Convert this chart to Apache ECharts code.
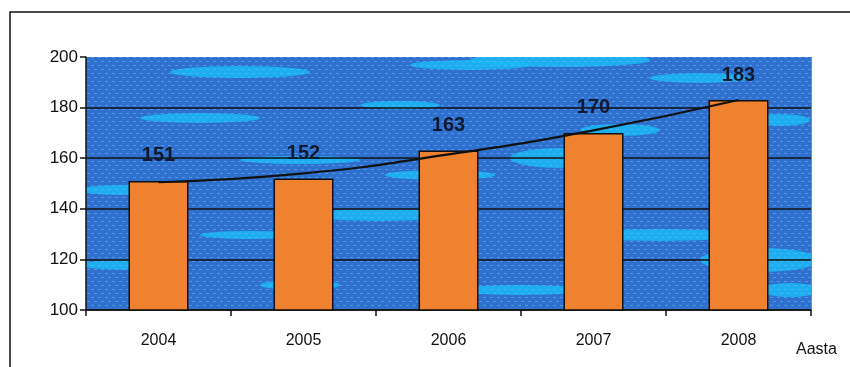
<!DOCTYPE html>
<html>
<head>
<meta charset="utf-8">
<script src="https://cdn.jsdelivr.net/npm/echarts@6/dist/echarts.min.js"></script>
<style>
  html, body { margin: 0; padding: 0; background: #fff; }
  #main { width: 850px; height: 367px; }
</style>
</head>
<body>
<div id="main"></div>
<script>
// data
var years = ['2004', '2005', '2006', '2007', '2008'];
var values = [151, 152, 163, 170, 183];
var trend = [150.5, 154, 161.5, 171, 183];
var axisName = 'Aasta';

// blue textured plot background (decoration only, covers the whole canvas,
// the grid rect clips it)
function makeTexture() {
    var c = document.createElement('canvas');
    c.width = 850; c.height = 367;
    var g = c.getContext('2d');
    g.fillStyle = '#2f70cf';
    g.fillRect(0, 0, c.width, c.height);
    var blobs = [[240, 72, 70, 6], [470, 65, 60, 5], [560, 60, 90, 7], [700, 78, 50, 5],
                 [200, 118, 60, 5], [400, 105, 40, 4], [560, 158, 50, 10], [620, 130, 40, 6],
                 [300, 160, 60, 4], [440, 175, 55, 5], [780, 120, 30, 6], [120, 190, 40, 5],
                 [380, 215, 70, 6], [250, 235, 50, 4], [660, 235, 80, 6], [130, 265, 50, 5],
                 [760, 260, 60, 12], [300, 285, 40, 5], [520, 290, 70, 5], [790, 290, 30, 7]];
    blobs.forEach(function (b) {
        g.fillStyle = 'rgba(25,185,245,0.85)';
        g.beginPath();
        g.ellipse(b[0], b[1], b[2], b[3], 0, 0, Math.PI * 2);
        g.fill();
    });
    g.fillStyle = 'rgba(110,185,250,0.55)';
    for (var y = 1; y < c.height; y += 4) {
        for (var x = (y % 8 === 1 ? 0 : 3); x < c.width; x += 7) {
            g.fillRect(x, y, 3, 1);
        }
    }
    return c;
}

var myChart = echarts.init(document.getElementById('main'));

var font = 'Arial, "Liberation Sans", sans-serif';

var option = {
    backgroundColor: '#fff',
    animation: false,
    grid: {
        left: 86, right: 39, top: 57, bottom: 57,
        show: true,
        backgroundColor: { image: makeTexture(), repeat: 'no-repeat' },
        borderWidth: 0
    },
    graphic: [
        {
            type: 'rect', silent: true, z: -1,
            shape: { x: 10, y: 12, width: 900, height: 400 },
            style: { fill: 'none', stroke: '#111', lineWidth: 1.5 }
        },
        {
            type: 'text', left: 796, top: 342,
            style: { text: axisName, font: '16px ' + font, fill: '#111' }
        },
        {
            type: 'line', silent: true,
            shape: { x1: 811.5, y1: 57, x2: 811.5, y2: 310 },
            style: { stroke: '#888', lineWidth: 1 }
        }
    ],
    xAxis: {
        type: 'category',
        data: years,
        boundaryGap: true,
        axisLine: { lineStyle: { color: '#111', width: 1.5 } },
        axisTick: { show: true, length: 6, lineStyle: { color: '#111', width: 1.5 } },
        axisLabel: { color: '#111', fontSize: 16, fontFamily: font, margin: 23 },
        splitLine: { show: false }
    },
    yAxis: {
        type: 'value',
        min: 100, max: 200, interval: 20,
        axisLine: { show: true, lineStyle: { color: '#111', width: 1.5 } },
        axisTick: { show: true, length: 6, lineStyle: { color: '#111', width: 1.5 } },
        axisLabel: { color: '#111', fontSize: 17, fontFamily: font, margin: 8 },
        splitLine: {
            show: true,
            lineStyle: { color: ['#111', '#111', '#111', '#111', '#111', 'transparent'], width: 1.5 }
        }
    },
    series: [
        {
            name: 'values',
            type: 'bar',
            data: values,
            barWidth: 60,
            itemStyle: { color: '#f0812e', borderColor: '#111', borderWidth: 1.5 },
            label: {
                show: true, position: 'top', distance: 15,
                color: '#0f1a30', fontSize: 20, fontWeight: 'bold',
                fontFamily: font
            }
        },
        {
            name: 'trend',
            type: 'line',
            data: trend,
            smooth: true,
            symbol: 'none',
            lineStyle: { color: '#111', width: 2.2 },
            z: 3
        }
    ]
};

myChart.setOption(option);
</script>
</body>
</html>
